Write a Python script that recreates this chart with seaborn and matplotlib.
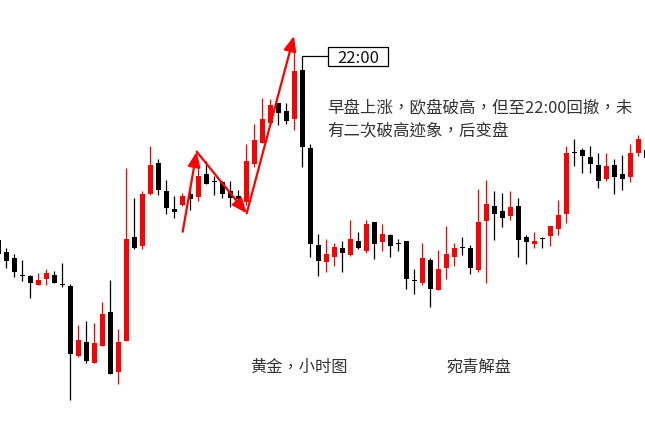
import numpy as np
import pandas as pd
import matplotlib
matplotlib.use("Agg")
import matplotlib.pyplot as plt
from matplotlib.patches import Rectangle
import seaborn as sns

# Hourly gold candles (price in chart points)
open_ = [192, 180, 174, 157, 156, 147, 153, 157, 148, 146,
         76, 90, 69, 86, 120, 60, 91, 195, 186, 238,
         269, 241, 223, 227, 238, 235, 258, 251, 250, 241,
         236, 230, 268, 289, 309, 329, 321, 313, 362, 284,
         187, 170, 175, 184, 177, 191, 181, 210, 190, 197,
         189, 191, 152, 149, 172, 142, 164, 175, 185, 184,
         162, 211, 226, 221, 216, 226, 195, 188, 194, 196,
         203, 218, 280, 282, 275, 267, 253, 267, 258, 255,
         279, 282]
high = [194, 184, 178, 172, 157, 159, 163, 161, 169, 148,
        107, 111, 109, 130, 152, 103, 264, 234, 241, 286,
        273, 252, 236, 239, 247, 272, 271, 256, 251, 251,
        242, 288, 308, 334, 333, 329, 329, 382, 362, 288,
        198, 193, 189, 191, 212, 200, 212, 210, 208, 198,
        193, 191, 163, 189, 174, 182, 206, 189, 195, 187,
        243, 252, 241, 239, 241, 234, 197, 200, 195, 206,
        232, 286, 293, 284, 286, 279, 279, 273, 277, 288,
        297, 284]
low = [176, 164, 155, 151, 134, 147, 147, 149, 145, 32,
       75, 69, 69, 86, 58, 48, 91, 183, 183, 237,
       237, 218, 214, 226, 222, 231, 248, 237, 234, 225,
       230, 227, 265, 289, 306, 307, 308, 302, 265, 175,
       156, 160, 166, 160, 176, 183, 179, 173, 181, 175,
       181, 143, 138, 147, 125, 142, 153, 166, 177, 158,
       160, 149, 192, 205, 212, 175, 168, 184, 184, 186,
       197, 209, 266, 259, 259, 244, 251, 238, 242, 250,
       276, 272]
close = [178, 171, 160, 156, 149, 152, 159, 149, 147, 78,
         92, 71, 89, 118, 58, 90, 193, 184, 238, 267,
         242, 224, 220, 236, 233, 256, 248, 250, 238, 234,
         233, 271, 292, 313, 327, 319, 311, 361, 285, 188,
         171, 178, 185, 179, 193, 184, 208, 188, 198, 186,
         188, 153, 151, 174, 143, 163, 178, 184, 184, 164,
         210, 228, 218, 214, 225, 192, 190, 191, 193, 206,
         217, 279, 279, 276, 268, 251, 266, 255, 253, 279,
         293, 274]

# Trend path drawn with arrows (candle index, price)
trend_x = [23.05, 24.8, 31.05, 36.96]
trend_y = [200.3, 280.3, 218.7, 396.0]

callout_bar = 38
callout_text = "22:00"
note_lines = ["早盘上涨，欧盘破高，但至22:00回撤，未",
              "有二次破高迹象，后变盘"]
title_text = "黄金，小时图"
author_text = "宛青解盘"

df = pd.DataFrame({"open": open_, "high": high, "low": low, "close": close})
df["idx"] = np.arange(len(df))
df["up"] = df["close"] > df["open"]
colors = np.where(df["up"], "#ff0000", "#000000")

sns.set_theme(style="white")
plt.rcParams["font.family"] = ["Noto Sans CJK SC", "DejaVu Sans"]
cjk_family = ["Noto Sans CJK TC", "Noto Sans CJK SC", "DejaVu Sans"]

fig = plt.figure(figsize=(6.45, 4.32), dpi=100)
ax = fig.add_axes([0, 0, 1, 1])
ax.set_facecolor("white")

# wicks and bodies
ax.vlines(df["idx"], df["low"], df["high"], colors=colors, linewidth=0.9, zorder=2)
body_bottom = np.minimum(df["open"], df["close"])
body_height = np.maximum(np.abs(df["close"] - df["open"]), 1)
ax.bar(df["idx"], body_height, bottom=body_bottom, width=0.625,
       color=colors, linewidth=0, zorder=3)

# trend arrows
for k in range(len(trend_x) - 1):
    ax.annotate("", xy=(trend_x[k + 1], trend_y[k + 1]),
                xytext=(trend_x[k], trend_y[k]),
                arrowprops=dict(arrowstyle="-|>,head_length=0.6,head_width=0.25",
                                color="#ff0000", lw=1.6, mutation_scale=15,
                                shrinkA=0, shrinkB=0), zorder=5)

# time callout
top = df.loc[callout_bar, "high"]
box_left, box_w, box_bottom, box_h = 41.25, 7.43, 366, 18.7
ax.plot([callout_bar, callout_bar, box_left], [top, 376, 376],
        color="black", lw=0.9, zorder=4)
ax.add_patch(Rectangle((box_left, box_bottom), box_w, box_h, facecolor="white",
                       edgecolor="black", lw=0.9, zorder=4))
ax.text(box_left + box_w / 2, 369, callout_text, ha="center", va="baseline",
        fontsize=12, color="#111111", zorder=5)

txt_color = "#333333"
ax.text(327 / 645, 1 - 109 / 432, note_lines[0], transform=ax.transAxes,
        ha="left", va="center", fontsize=11.85, color=txt_color, family=cjk_family)
ax.text(327 / 645, 1 - 130.5 / 432, note_lines[1], transform=ax.transAxes,
        ha="left", va="center", fontsize=11.85, color=txt_color, family=cjk_family)
ax.text(250.5 / 645, 1 - 367 / 432, title_text, transform=ax.transAxes,
        ha="left", va="center", fontsize=11.7, color=txt_color, family=cjk_family)
ax.text(446.5 / 645, 1 - 367 / 432, author_text, transform=ax.transAxes,
        ha="left", va="center", fontsize=11.7, color=txt_color, family=cjk_family)

ax.set_xlim(0.2125, 80.8375)
ax.set_ylim(0, 432)
ax.set_xticks([])
ax.set_yticks([])
sns.despine(ax=ax, left=True, bottom=True)

fig.savefig("out.png", dpi=100, facecolor="white")
